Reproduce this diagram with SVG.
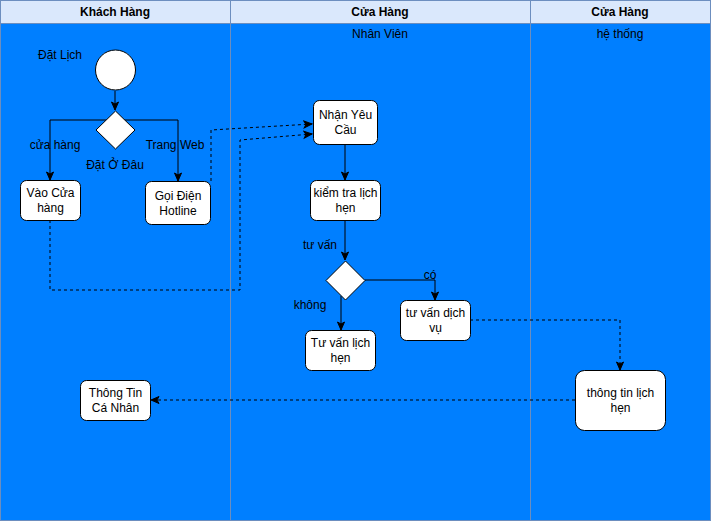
<svg xmlns="http://www.w3.org/2000/svg" width="711" height="521" viewBox="0 0 711 521">
<defs>
<style>
text{font-family:"Liberation Sans",Arial,Helvetica,sans-serif;font-size:12px;fill:#000;text-anchor:middle}
.hdr{font-weight:bold}
.lane{fill:#007FFF;stroke:#6c8ebf;stroke-width:1}
.head{fill:#dae8fc;stroke:#6c8ebf;stroke-width:1}
.box{fill:#fff;stroke:#000;stroke-width:1}
.ln{fill:none;stroke:#000;stroke-width:1}
.dash{fill:none;stroke:#000;stroke-width:1;stroke-dasharray:3 3}
</style>
<marker id="ah" markerWidth="10" markerHeight="10" refX="9" refY="5" orient="auto" markerUnits="userSpaceOnUse">
<path d="M1,1.5 L9,5 L1,8.5 L3,5 Z" fill="#000" stroke="#000" stroke-width="1"/>
</marker>
</defs>
<g id="lanes">
<rect class="lane" x="0.5" y="0.5" width="230" height="520"/>
<rect class="lane" x="230.5" y="0.5" width="300" height="520"/>
<rect class="lane" x="530.5" y="0.5" width="180" height="520"/>
<rect class="head" x="0.5" y="0.5" width="230" height="23"/>
<rect class="head" x="230.5" y="0.5" width="300" height="23"/>
<rect class="head" x="530.5" y="0.5" width="180" height="23"/>
<text class="hdr" x="115" y="16">Khách Hàng</text>
<text class="hdr" x="380" y="16">Cửa Hàng</text>
<text class="hdr" x="620" y="16">Cửa Hàng</text>
<text x="380" y="38">Nhân Viên</text>
<text x="620" y="38">hệ thống</text>
</g>
<g id="connectors">
<line class="ln" x1="115" y1="91" x2="115" y2="110" marker-end="url(#ah)"/>
<polyline class="ln" points="115,120 50,120 50,180" marker-end="url(#ah)"/>
<polyline class="ln" points="115,120 178,120 178,181" marker-end="url(#ah)"/>
<polyline class="dash" points="211,181 211,130 312,124" marker-end="url(#ah)"/>
<polyline class="dash" points="50,220 50,290 240,290 240,140 312,134" marker-end="url(#ah)"/>
<line class="ln" x1="345" y1="145" x2="345" y2="180" marker-end="url(#ah)"/>
<line class="ln" x1="345" y1="220" x2="345" y2="260" marker-end="url(#ah)"/>
<polyline class="ln" points="365,280 435,280 435,300" marker-end="url(#ah)"/>
<polyline class="ln" points="341,296 341,330" marker-end="url(#ah)"/>
<polyline class="dash" points="470,320 620,320 620,370" marker-end="url(#ah)"/>
<line class="dash" x1="575" y1="400" x2="151" y2="400" marker-end="url(#ah)"/>
<text x="55" y="149">cửa hàng</text>
<text x="175" y="149">Trang Web</text>
<text x="115" y="169">Đặt Ở Đâu</text>
<text x="320" y="249">tư vấn</text>
<text x="430" y="279">có</text>
<text x="310" y="309">không</text>
</g>
<g id="start">
<text x="60" y="59">Đặt Lịch</text>
<circle class="box" cx="115.5" cy="70" r="20"/>
</g>
<g id="decision1">
<polygon class="box" points="115.5,111 135,130 115.5,149 96,130"/>
</g>
<g id="vaoCuaHang">
<rect class="box" x="20.5" y="180.5" width="60" height="40" rx="6"/>
<text x="50.5" y="197">Vào Cửa</text>
<text x="50.5" y="212">hàng</text>
</g>
<g id="goiDien">
<rect class="box" x="145.5" y="181.5" width="65" height="43" rx="6"/>
<text x="178" y="200">Gọi Điện</text>
<text x="178" y="215">Hotline</text>
</g>
<g id="nhanYeuCau">
<rect class="box" x="313.5" y="100.5" width="64" height="44" rx="6"/>
<text x="345.5" y="119">Nhận Yêu</text>
<text x="345.5" y="134">Cầu</text>
</g>
<g id="kiemTra">
<rect class="box" x="310.5" y="180.5" width="70" height="40" rx="6"/>
<text x="345.5" y="197">kiểm tra lịch</text>
<text x="345.5" y="212">hẹn</text>
</g>
<g id="decision2">
<polygon class="box" points="345.5,261 365,280.5 345.5,300 326,280.5"/>
</g>
<g id="tuVanDichVu">
<rect class="box" x="400.5" y="300.5" width="70" height="40" rx="6"/>
<text x="435.5" y="317">tư vấn dịch</text>
<text x="435.5" y="332">vụ</text>
</g>
<g id="tuVanLichHen">
<rect class="box" x="305.5" y="330.5" width="70" height="40" rx="6"/>
<text x="340.5" y="347">Tư vấn lịch</text>
<text x="340.5" y="362">hẹn</text>
</g>
<g id="thongTinLichHen">
<rect class="box" x="575.5" y="370.5" width="90" height="60" rx="9"/>
<text x="620.5" y="397">thông tin lịch</text>
<text x="620.5" y="412">hẹn</text>
</g>
<g id="thongTinCaNhan">
<rect class="box" x="80.5" y="380.5" width="70" height="40" rx="6"/>
<text x="115.5" y="397">Thông Tin</text>
<text x="115.5" y="412">Cá Nhân</text>
</g>
</svg>
